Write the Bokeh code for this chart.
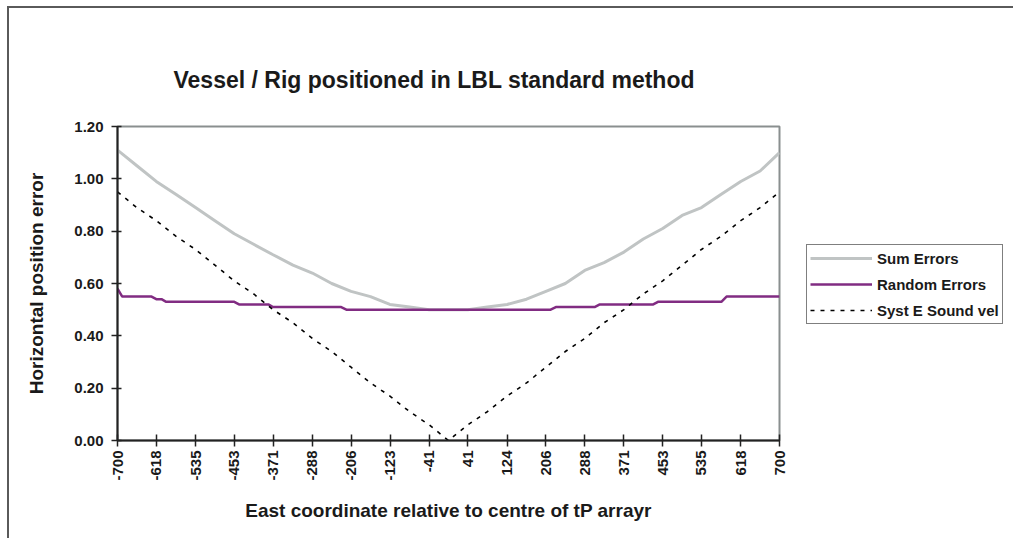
import math
from bokeh.plotting import figure
from bokeh.models import (Range1d, FixedTicker, NumeralTickFormatter, Legend,
                          LegendItem)
from bokeh.embed import file_html
from bokeh.resources import INLINE

TITLE = "Vessel / Rig positioned in LBL standard method"
X_LABEL = "East coordinate relative to centre of tP arrayr"
Y_LABEL = "Horizontal position error"

X_TICK_LABELS = ["-700", "-618", "-535", "-453", "-371", "-288", "-206", "-123", "-41",
                 "41", "124", "206", "288", "371", "453", "535", "618", "700"]
Y_TICKS = [0.0, 0.2, 0.4, 0.6, 0.8, 1.0, 1.2]

# East coordinate samples for the smooth series
X_GRID = [-700, -659, -618, -576, -535, -494, -453, -412, -371, -329, -288, -247,
          -206, -165, -124, -82, -41, 0, 41, 82, 124, 165, 206, 247, 288, 329,
          371, 412, 453, 494, 535, 576, 618, 659, 700]

SUM_ERRORS = [1.11, 1.05, 0.99, 0.94, 0.89, 0.84, 0.79, 0.75, 0.71, 0.67, 0.64, 0.60,
              0.57, 0.55, 0.52, 0.51, 0.50, 0.50, 0.50, 0.51, 0.52, 0.54, 0.57, 0.60,
              0.65, 0.68, 0.72, 0.77, 0.81, 0.86, 0.89, 0.94, 0.99, 1.03, 1.10]

SYST_SOUND_VEL = [0.95, 0.89, 0.84, 0.78, 0.73, 0.67, 0.61, 0.56, 0.50, 0.45, 0.39,
                  0.34, 0.28, 0.22, 0.17, 0.11, 0.06, 0.00, 0.06, 0.11, 0.17, 0.22,
                  0.28, 0.34, 0.39, 0.45, 0.50, 0.56, 0.61, 0.67, 0.73, 0.78, 0.84,
                  0.89, 0.95]

# Random errors: stepwise series, given at its break points
RANDOM_X = [-700, -690, -628, -618, -607, -597, -453, -443, -381, -371, -227, -216,
            216, 227, 309, 320, 433, 443, 577, 588, 700]
RANDOM_ERRORS = [0.58, 0.55, 0.55, 0.54, 0.54, 0.53, 0.53, 0.52, 0.52, 0.51, 0.51,
                 0.50, 0.50, 0.51, 0.51, 0.52, 0.52, 0.53, 0.53, 0.55, 0.55]

FONT = "Liberation Sans"
TXT = "#1a1a1a"

p = figure(frame_width=662, frame_height=314,
           min_border_left=108, min_border_right=228,
           min_border_top=118, min_border_bottom=98,
           x_range=Range1d(-700, 700), y_range=Range1d(0, 1.2),
           output_backend="svg", toolbar_location=None)
p.styles = {"border-left": "2px solid #5a5a5a", "border-top": "2px solid #5a5a5a",
            "margin-left": "7px", "margin-top": "6px"}

p.title.text = TITLE
p.title.align = "left"
p.title.offset = 56
p.title.standoff = 67
p.title.text_font = FONT
p.title.text_font_style = "bold"
p.title.text_font_size = "23px"
p.title.text_color = TXT

p.background_fill_color = "white"
p.border_fill_color = "white"
p.outline_line_color = "#8a8f8f"
p.outline_line_width = 2
p.xgrid.visible = False
p.ygrid.visible = False

r_sum = p.line(X_GRID, SUM_ERRORS, line_color="#c0c4c4", line_width=3)
r_rand = p.line(RANDOM_X, RANDOM_ERRORS, line_color="#812c82", line_width=2.5)
r_syst = p.line(X_GRID, SYST_SOUND_VEL, line_color="black", line_width=1.6,
                line_dash="4 6")

# axes
xa = p.xaxis[0]
xa.ticker = FixedTicker(ticks=[int(s) for s in X_TICK_LABELS])
xa.major_label_overrides = {int(s): s for s in X_TICK_LABELS}
xa.major_label_orientation = math.pi / 2
xa.minor_tick_line_color = None
xa.major_tick_in = 6
xa.major_tick_out = 6
xa.major_label_standoff = 4
xa.axis_label = X_LABEL
xa.axis_label_standoff = 16

ya = p.yaxis[0]
ya.ticker = FixedTicker(ticks=Y_TICKS)
ya.formatter = NumeralTickFormatter(format="0.00")
ya.minor_tick_line_color = None
ya.major_tick_in = 4
ya.major_tick_out = 6
ya.major_label_standoff = 8
ya.axis_label = Y_LABEL
ya.axis_label_standoff = 24

for ax in (xa, ya):
    ax.axis_line_color = "#222222"
    ax.axis_line_width = 2
    ax.major_tick_line_color = "#222222"
    ax.major_tick_line_width = 1.5
    ax.major_label_text_font = FONT
    ax.major_label_text_font_style = "bold"
    ax.major_label_text_font_size = "15px"
    ax.major_label_text_color = TXT
    ax.axis_label_text_font = FONT
    ax.axis_label_text_font_style = "bold"
    ax.axis_label_text_font_size = "19px"
    ax.axis_label_text_color = TXT

legend = Legend(items=[LegendItem(label="Sum Errors", renderers=[r_sum]),
                       LegendItem(label="Random Errors", renderers=[r_rand]),
                       LegendItem(label="Syst E Sound vel", renderers=[r_syst])],
                location=(27, 116), orientation="vertical",
                glyph_width=62, glyph_height=20, label_height=20,
                label_standoff=5, spacing=6, padding=3, margin=0,
                border_line_color="black", border_line_width=1,
                background_fill_color="white", background_fill_alpha=1,
                label_text_font=FONT, label_text_font_style="bold",
                label_text_font_size="15px", label_text_color=TXT)
p.add_layout(legend, "right")

open("out.html", "w").write(file_html(p, INLINE))
